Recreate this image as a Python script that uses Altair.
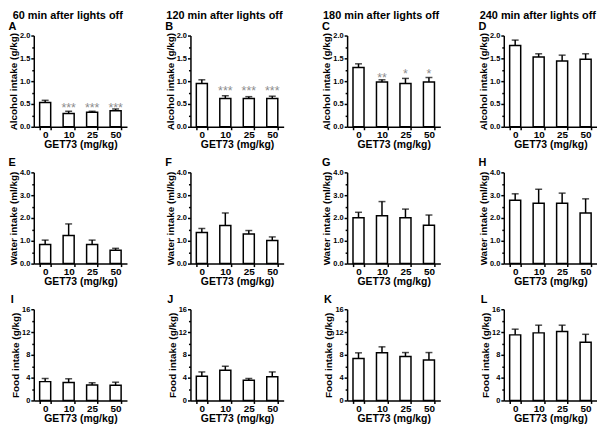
import altair as alt
import pandas as pd

FONT = "Liberation Sans"

doses = ["0", "10", "25", "50"]
time_titles = ["60 min after lights off", "120 min after lights off",
               "180 min after lights off", "240 min after lights off"]
panel_letters = [["A", "B", "C", "D"], ["E", "F", "G", "H"], ["I", "J", "K", "L"]]

# Alcohol intake (g/kg): mean and SEM per dose, one list per time point
alcohol_mean = [[0.53, 0.29, 0.32, 0.35], [0.95, 0.62, 0.62, 0.62],
                [1.30, 0.98, 0.95, 0.98], [1.78, 1.53, 1.44, 1.48]]
alcohol_sem = [[0.05, 0.05, 0.02, 0.04], [0.08, 0.06, 0.04, 0.05],
               [0.08, 0.05, 0.11, 0.10], [0.12, 0.07, 0.13, 0.12]]
alcohol_stars = [["", "***", "***", "***"], ["", "***", "***", "***"],
                 ["", "**", "*", "*"], ["", "", "", ""]]
alcohol_star_level = [[0, 0.47, 0.47, 0.47], [0, 0.85, 0.85, 0.85],
                      [0, 1.14, 1.22, 1.22], [0, 0, 0, 0]]

# Water intake (ml/kg)
water_mean = [[0.84, 1.23, 0.84, 0.59], [1.36, 1.67, 1.30, 1.01],
              [2.01, 2.10, 2.01, 1.68], [2.78, 2.65, 2.65, 2.22]]
water_sem = [[0.19, 0.51, 0.19, 0.08], [0.18, 0.55, 0.15, 0.16],
             [0.24, 0.62, 0.38, 0.45], [0.28, 0.61, 0.44, 0.62]]

# Food intake (g/kg)
food_mean = [[3.3, 3.15, 2.7, 2.65], [4.25, 5.3, 3.55, 4.15],
             [7.35, 8.35, 7.7, 7.1], [11.5, 11.85, 12.1, 10.2]]
food_sem = [[0.55, 0.65, 0.4, 0.55], [0.75, 0.7, 0.3, 0.85],
            [1.0, 1.05, 0.7, 1.3], [1.0, 1.35, 1.1, 1.4]]

row_titles = ["Alcohol intake (g/kg)", "Water intake (ml/kg)", "Food intake (g/kg)"]
row_domains = [[0, 2], [0, 4], [0, 16]]
row_ticks = [[0, 0.5, 1.0, 1.5, 2.0], [0, 1, 2, 3, 4], [0, 4, 8, 12, 16]]
row_minor = [[0.25, 0.75, 1.25, 1.75], [0.5, 1.5, 2.5, 3.5], [2, 6, 10, 14]]
row_formats = [".1f", ".1f", "d"]

means = [alcohol_mean, water_mean, food_mean]
sems = [alcohol_sem, water_sem, food_sem]

W, H = 94, 92


def make_panel(r, c):
    m = means[r][c]
    s = sems[r][c]
    stars = alcohol_stars[c] if r == 0 else ["", "", "", ""]
    levels = alcohol_star_level[c] if r == 0 else [0, 0, 0, 0]
    df = pd.DataFrame({
        "dose": doses,
        "mean": m,
        "top": [a + b for a, b in zip(m, s)],
        "star": stars,
        "level": levels,
    })
    yscale = alt.Scale(domain=row_domains[r], nice=False, zero=True)
    x = alt.X("dose:N", sort=doses,
              scale=alt.Scale(paddingInner=0.53, paddingOuter=0.25),
              axis=alt.Axis(title="GET73 (mg/kg)", labelAngle=0, tickBand="extent"))
    base = alt.Chart(df).encode(x=x)
    yaxis = alt.Axis(title=row_titles[r], values=row_ticks[r], format=row_formats[r])
    bars = base.mark_bar(fill="white", stroke="black", strokeWidth=1.5).encode(
        y=alt.Y("mean:Q", scale=yscale, axis=yaxis))
    err = base.mark_rule(color="black", strokeWidth=1.5).encode(
        y=alt.Y("mean:Q", axis=yaxis), y2="top:Q")
    cap = base.mark_tick(color="black", thickness=1.5, size=7).encode(
        y=alt.Y("top:Q", axis=yaxis))
    txt = base.mark_text(color="#8c8c8c", fontSize=12.5, font=FONT, baseline="middle", dy=3).encode(
        y=alt.Y("level:Q", axis=yaxis), text="star:N")
    main = alt.layer(bars, err, cap, txt)
    minor = alt.Chart(pd.DataFrame({"v": row_minor[r]})).mark_point(opacity=0).encode(
        y=alt.Y("v:Q", scale=yscale,
                axis=alt.Axis(orient="left", values=row_minor[r], labels=False, domain=False,
                              title=None, tickSize=2, grid=False)))
    layer = alt.layer(main, minor).resolve_axis(y="independent").properties(
        width=W, height=H,
        title=alt.TitleParams(panel_letters[r][c], anchor="start", frame="bounds",
                              fontSize=11, fontWeight="bold", font=FONT, offset=0))
    return layer


columns = []
for c in range(4):
    col = alt.vconcat(*[make_panel(r, c) for r in range(3)], spacing=7,
                      title=alt.TitleParams(time_titles[c], anchor="middle", fontSize=11,
                                            fontWeight="bold", font=FONT, offset=0))
    columns.append(col)

chart = alt.hconcat(*columns, spacing=38).properties(
    padding={"left": 0, "top": 0, "right": 0, "bottom": 0}
).configure_view(stroke=None).configure_axis(
    domainColor="black", domainWidth=1.5, tickColor="black", tickWidth=1.5, tickSize=3,
    labelColor="black", labelFont=FONT, labelFontWeight="bold",
    titleFont=FONT, titleFontWeight="bold", titleColor="black", grid=False
).configure_axisX(
    labelFontSize=10, titleFontSize=10.5, labelPadding=0, titlePadding=0
).configure_axisY(
    labelFontSize=7.5, titleFontSize=10, labelPadding=1, titlePadding=1
).configure_title(font=FONT, color="black")

chart.save("out.html", embed_options={"renderer": "svg", "actions": False})
